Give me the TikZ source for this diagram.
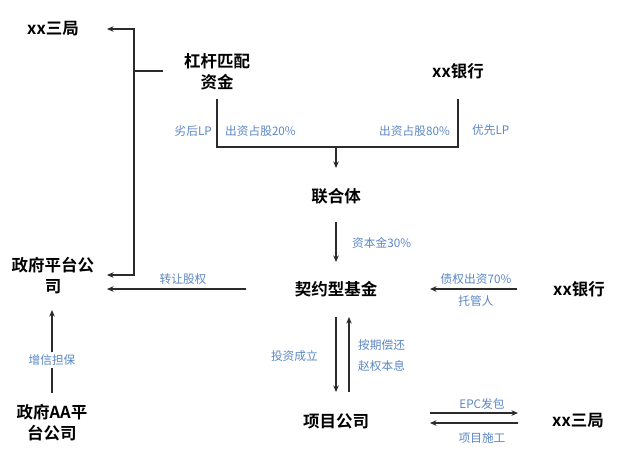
\documentclass[tikz,border=0pt]{standalone}
\usepackage{fontspec}
\setmainfont{Noto Sans CJK SC}
\newfontfamily\cjkbold{Noto Sans CJK SC Bold}
\usetikzlibrary{arrows.meta}
\definecolor{lblue}{HTML}{5B87C5}
\definecolor{lline}{HTML}{2B2B2B}
\tikzset{
  box/.style={font=\cjkbold\fontsize{16.5}{21}\selectfont, align=center, inner sep=2pt, text=black},
  lbl/.style={font=\fontsize{11.7}{14}\selectfont, text=lblue, inner sep=1pt},
  ln/.style={draw=lline, line width=1.3pt},
  arr/.style={ln, -{Stealth[length=6.5pt,width=5.5pt]}},
}
\begin{document}
\begin{tikzpicture}[x=1pt,y=-1pt]
\useasboundingbox (0,0) rectangle (640,451);
\fill[white] (0,0) rectangle (640,451);
% nodes
\node[box] (sanju1) at (53,29) {xx三局};
\node[box] (ganggan) at (217,72) {杠杆匹配\\资金};
\node[box] (bank1) at (458,71) {xx银行};
\node[box] (lht) at (336,196) {联合体};
\node[box] (fund) at (336,289) {契约型基金};
\node[box] (gov) at (53,276) {政府平台公\\司};
\node[box] (bank2) at (579,289) {xx银行};
\node[box] (proj) at (336,421) {项目公司};
\node[box] (sanju2) at (578,421) {xx三局};
\node[box] (govaa) at (52,423) {政府AA平\\台公司};
% coordinates
\coordinate (t1) at (134,29);
\coordinate (t2) at (134,275);
\coordinate (tb) at (134,71);
\coordinate (gb) at (163,71);
\coordinate (a1) at (107,29);
\coordinate (a2) at (107,275);
\coordinate (g1) at (217,99);
\coordinate (g2) at (217,147);
\coordinate (b1) at (458,99);
\coordinate (b2) at (458,147);
\coordinate (j) at (336,147);
\coordinate (jt) at (336,168);
\coordinate (l1) at (336,222);
\coordinate (l2) at (336,262);
\coordinate (f1) at (246,289);
\coordinate (f2) at (107,289);
\coordinate (k1) at (517,289);
\coordinate (k2) at (430,289);
\coordinate (d1) at (336,317);
\coordinate (d2) at (336,392);
\coordinate (u1) at (349,392);
\coordinate (u2) at (349,317);
\coordinate (e1) at (430,413);
\coordinate (e2) at (518,413);
\coordinate (e3) at (518,423);
\coordinate (e4) at (430,423);
\coordinate (z1) at (52,393);
\coordinate (z2) at (52,368);
\coordinate (z3) at (52,352);
\coordinate (z4) at (52,310);
% connectors
\draw[arr] (tb) -- (t1) -- (a1);
\draw[arr] (tb) -- (t2) -- (a2);
\draw[ln] (tb) -- (gb);
\draw[ln] (g1) -- (g2) -- (b2) -- (b1);
\draw[arr] (j) -- (jt);
\draw[arr] (l1) -- (l2);
\draw[arr] (f1) -- (f2);
\draw[arr] (k1) -- (k2);
\draw[arr] (d1) -- (d2);
\draw[arr] (u1) -- (u2);
\draw[arr] (e1) -- (e2);
\draw[arr] (e3) -- (e4);
\draw[ln] (z1) -- (z2);
\draw[arr] (z3) -- (z4);
% labels
\node[lbl, anchor=east] (lb1) at (213,131) {劣后LP};
\node[lbl, anchor=west] (lb2) at (224,131) {出资占股20\%};
\node[lbl, anchor=east] (lb3) at (451,131) {出资占股80\%};
\node[lbl, anchor=west] (lb4) at (471,130) {优先LP};
\node[lbl, anchor=west] (lb5) at (351,243) {资本金30\%};
\node[lbl] (lb6) at (183,279) {转让股权};
\node[lbl] (lb7) at (476,279) {债权出资70\%};
\node[lbl] (lb8) at (476,301) {托管人};
\node[lbl, anchor=west] (lb9) at (357,345) {按期偿还};
\node[lbl, anchor=west] (lb10) at (357,366) {赵权本息};
\node[lbl, anchor=east] (lb11) at (319,356) {投资成立};
\node[lbl] (lb12) at (482,404) {EPC发包};
\node[lbl] (lb13) at (482,438) {项目施工};
\node[lbl] (lb14) at (52,360) {增信担保};
\end{tikzpicture}
\end{document}
